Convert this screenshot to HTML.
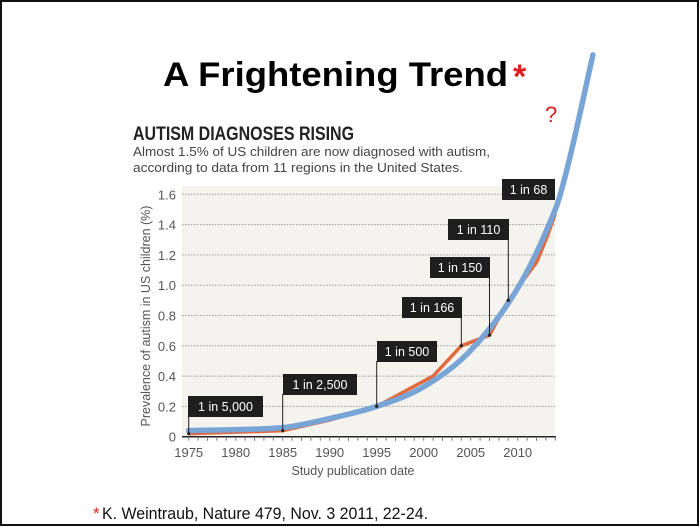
<!DOCTYPE html>
<html><head><meta charset="utf-8"><style>
html,body{margin:0;padding:0;background:#fff}
svg{display:block;font-family:"Liberation Sans",sans-serif}
</style></head><body>
<svg id="c" width="700" height="527" viewBox="0 0 700 527">
<rect x="1" y="1" width="697" height="524" fill="#fff" stroke="#111" stroke-width="2"/>
<text x="163" y="86" font-size="34" font-weight="bold" textLength="345" lengthAdjust="spacingAndGlyphs" fill="#000">A Frightening Trend</text>
<text x="513" y="88" font-size="34" font-weight="bold" fill="#e02020">*</text>
<text x="545" y="122" font-size="22" fill="#d42020">?</text>
<text x="133" y="140" font-size="19" font-weight="bold" fill="#222" textLength="221" lengthAdjust="spacingAndGlyphs">AUTISM DIAGNOSES RISING</text>
<text x="133" y="156" font-size="12.5" fill="#444" textLength="357" lengthAdjust="spacingAndGlyphs">Almost 1.5% of US children are now diagnosed with autism,</text>
<text x="133" y="172" font-size="12.5" fill="#444" textLength="330" lengthAdjust="spacingAndGlyphs">according to data from 11 regions in the United States.</text>
<rect x="182" y="186" width="373" height="251" fill="#f5f3ed"/>
<g id="grid"></g><g id="axes"></g><g id="series"></g><g id="labels"></g>
<text x="353" y="475" font-size="12.5" fill="#555" text-anchor="middle">Study publication date</text>
<text transform="translate(150,316) rotate(-90)" font-size="12.5" fill="#555" text-anchor="middle">Prevalence of autism in US children (%)</text>
<text x="93" y="519" font-size="17" fill="#e02020">*</text>
<text x="102" y="519" font-size="17" fill="#111" textLength="326" lengthAdjust="spacingAndGlyphs">K. Weintraub, Nature 479, Nov. 3 2011, 22-24.</text>
</svg>
<script>
const yTicks = [0,0.2,0.4,0.6,0.8,1.0,1.2,1.4,1.6];
const yTickLabels = ["0","0.2","0.4","0.6","0.8","1.0","1.2","1.4","1.6"];
const xTicks = [1975,1980,1985,1990,1995,2000,2005,2010];
const dataYears = [1975,1985,1990,1995,2001,2004,2007,2009,2012,2013,2014];
const dataValues = [0.02,0.04,0.11,0.2,0.4,0.6,0.67,0.9,1.15,1.3,1.47];
const trendYears = [1975,1985,1990,1995,2000,2005,2010,2014,2015.5,2018];
const trendValues = [0.04,0.06,0.12,0.2,0.33,0.57,0.98,1.5,1.83,2.52];
const calloutText = ["1 in 5,000","1 in 2,500","1 in 500","1 in 166","1 in 150","1 in 110","1 in 68"];
const calloutYears = [1975,1985,1995,2004,2007,2009,2014];
const calloutValues = [0.02,0.04,0.2,0.6,0.67,0.9,1.47];
const NS="http://www.w3.org/2000/svg";
const X=y=>188.7+(y-1975)*9.4;
const Y=v=>436.7-v*151.5;
function mk(tag,attrs,parent,txt){const e=document.createElementNS(NS,tag);for(const k in attrs)e.setAttribute(k,attrs[k]);if(txt!=null)e.textContent=txt;document.getElementById(parent).appendChild(e);return e;}
yTicks.forEach((v,i)=>{
  if(v>0){const g=mk('line',{x1:182,x2:555,y1:Y(v),y2:Y(v),stroke:'#999','stroke-width':1,'stroke-dasharray':'1.5,1.5'},'grid');
  
  }
  const t=mk('text',{x:176,y:Y(v)+5,'font-size':13,fill:'#555','text-anchor':'end'},'axes',yTickLabels[i]);
  
  
});
const ax=mk('line',{x1:182,x2:556,y1:Y(0),y2:Y(0),stroke:'#222','stroke-width':1.5},'axes');


for(let yr=1975;yr<=2014;yr++){
  const tk=mk('line',{x1:X(yr),x2:X(yr),y1:Y(0),y2:Y(0)+4,stroke:'#777','stroke-width':1},'axes');
  
  
}
xTicks.forEach(yr=>{
  const t=mk('text',{x:X(yr),y:457,'font-size':13,fill:'#555','text-anchor':'middle'},'axes',String(yr));
  
  
});
const rp=mk('polyline',{points:dataYears.map((y,i)=>X(y)+','+Y(dataValues[i])).join(' '),fill:'none',stroke:'#e2683e','stroke-width':3.5,'stroke-linejoin':'round'},'series');


let d='M'+X(trendYears[0])+','+Y(trendValues[0]);
for(let i=1;i<trendYears.length;i++){
  const x0=X(trendYears[i-1]),y0=Y(trendValues[i-1]),x1=X(trendYears[i]),y1=Y(trendValues[i]);
  const pm=i>1?(Y(trendValues[i])-Y(trendValues[i-2]))/(X(trendYears[i])-X(trendYears[i-2])):(y1-y0)/(x1-x0);
  const pn=i<trendYears.length-1?(Y(trendValues[i+1])-Y(trendValues[i-1]))/(X(trendYears[i+1])-X(trendYears[i-1])):(y1-y0)/(x1-x0);
  const h=(x1-x0)/3;
  d+=` C${x0+h},${y0+pm*h} ${x1-h},${y1-pn*h} ${x1},${y1}`;
}
const bp=mk('path',{d:d,fill:'none',stroke:'#78a4d6','stroke-width':5.5,'stroke-linecap':'round'},'series');


const boxes=[[188,396,75,'l'],[283,374,74,'l'],[377,341,60,'l'],[402,297,60,'r'],[430,257,60,'r'],[448,219,61,'r'],[502,179,53,'n']];
calloutText.forEach((txt,i)=>{
  const [bx,by,bw,side]=boxes[i];
  const px=X(calloutYears[i]),py=Y(calloutValues[i]);
  if(side!=='n'){
    const l=mk('line',{x1:px,x2:px,y1:by+20,y2:py,stroke:'#222','stroke-width':1},'labels');
    
    
    const dt=mk('circle',{cx:px,cy:py,r:1.6,fill:'#222'},'labels');
    
    
  }
  const r=mk('rect',{x:bx,y:by,width:bw,height:21,fill:'#1e1e1e'},'labels');
  
  
  const t=mk('text',{x:bx+bw/2,y:by+15,'font-size':12.5,fill:'#fff','text-anchor':'middle'},'labels',txt);
  
  
});
</script>
</body></html>
